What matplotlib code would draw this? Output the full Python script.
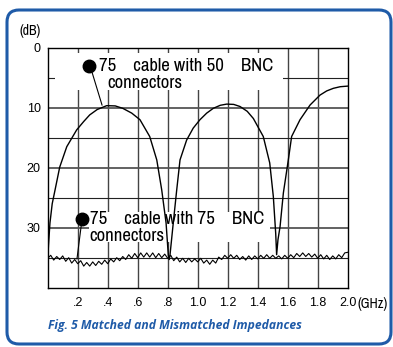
#!/usr/bin/env python3
import numpy as np
import matplotlib
matplotlib.use("Agg")
import matplotlib.pyplot as plt
from matplotlib import font_manager
from matplotlib.patches import FancyBboxPatch, Rectangle

# 75 ohm cable with 50 ohm BNC connectors (mismatched)
mis_f = [0.0, 0.005, 0.015, 0.03, 0.049, 0.08, 0.127, 0.193, 0.24, 0.28, 0.33,
         0.393, 0.45, 0.50, 0.56, 0.615, 0.68, 0.727, 0.76, 0.789, 0.804, 0.81,
         0.815, 0.837, 0.86, 0.882, 0.926, 0.97, 1.015, 1.06, 1.104, 1.15, 1.193,
         1.24, 1.282, 1.33, 1.371, 1.437, 1.48, 1.504, 1.52, 1.526, 1.535, 1.549,
         1.571, 1.604, 1.626, 1.682, 1.749, 1.815, 1.86, 1.904, 1.95, 2.0]
mis_db = [35.4, 33.0, 29.2, 26.0, 23.7, 19.9, 16.5, 13.7, 12.3, 11.2, 10.3,
          9.66, 9.7, 10.1, 10.9, 12.0, 14.8, 18.7, 23.7, 29.2, 34.6, 35.3,
          34.6, 29.2, 23.7, 18.7, 15.4, 13.4, 12.0, 10.9, 10.1, 9.6, 9.4,
          9.45, 9.8, 10.6, 11.8, 14.8, 19.2, 24.8, 31.0, 34.5, 32.0, 29.8,
          24.2, 18.7, 14.8, 12.0, 9.55, 7.9, 7.2, 6.77, 6.5, 6.4]

# 75 ohm cable with 75 ohm BNC connectors (matched), 0.02 GHz steps
match_db = [35.1, 34.6, 35.4, 34.8, 35.3, 34.7, 35.6, 35.0, 35.9, 35.3,
            36.0, 35.5, 36.4, 35.8, 36.4, 35.7, 36.3, 35.6, 36.1, 35.4,
            36.0, 35.2, 35.7, 35.0, 35.5, 34.8, 35.3, 34.5, 35.1, 34.3,
            35.0, 34.2, 34.9, 34.2, 34.9, 34.2, 35.0, 34.3, 35.0, 34.4,
            35.1, 34.6, 35.5, 34.9, 35.7, 35.1, 35.8, 35.1, 35.7, 35.2,
            35.7, 35.1, 35.9, 35.4, 36.1, 35.4, 35.9, 34.9, 35.3, 34.6,
            35.1, 34.5, 35.1, 34.6, 35.3, 34.8, 35.4, 34.7, 35.3, 34.7,
            35.2, 34.6, 35.1, 34.5, 35.1, 34.6, 35.1, 34.7, 35.2, 34.6,
            35.1, 34.5, 35.0, 34.3, 34.8, 34.2, 34.8, 34.3, 34.9, 34.4,
            35.1, 34.5, 35.2, 34.6, 35.3, 34.7, 35.2, 34.5, 35.0, 34.2,
            34.1]
match_f = np.linspace(0, 2.0, len(match_db))

x_ticks = [0.2, 0.4, 0.6, 0.8, 1.0, 1.2, 1.4, 1.6, 1.8, 2.0]
x_labels = ['.2', '.4', '.6', '.8', '1.0', '1.2', '1.4', '1.6', '1.8', '2.0']
y_ticks = [0, 10, 20, 30]

blue = '#1f5ba8'

# pick a condensed face if one is installed
names = sorted({f.name for f in font_manager.fontManager.ttflist})
narrow_name = next((n for n in names if 'Narrow' in n or 'Condensed' in n),
                   'Liberation Sans')
narrow = [narrow_name, 'DejaVu Sans']
label_size = 13.5 if narrow_name != 'Liberation Sans' else 11

fig = plt.figure(figsize=(3.93, 3.47), dpi=100)
ax = fig.add_axes([0.1214, 0.1709, 0.7634, 0.6916])

# grid
for xv in x_ticks[:-1]:
    ax.axvline(xv, color='#444444', lw=1.0, zorder=1)
for yv in [5, 15, 25, 35]:
    ax.axhline(yv, color='#222222', lw=0.8, zorder=1)
for yv in [10, 20, 30]:
    ax.axhline(yv, color='#555555', lw=1.3, zorder=1)

# white label boxes hiding the grid
ax.add_patch(Rectangle((0.049, 0.9), 1.52, 6.15, facecolor='white', edgecolor='none', zorder=2))
ax.add_patch(Rectangle((0.275, 27.4), 1.21, 5.0, facecolor='white', edgecolor='none', zorder=2))

ax.plot(mis_f, mis_db, color='black', lw=1.0, zorder=4)
ax.plot(match_f, match_db, color='black', lw=0.8, zorder=4)

# annotations
ax.plot([0.295, 0.362], [4.05, 9.55], color='black', lw=0.8, zorder=4)
ax.plot(0.275, 3.05, 'o', color='black', markersize=9, zorder=5)
ax.text(0.345, 3.05, '75    cable with 50    BNC', family=narrow, fontsize=label_size,
        va='center', ha='left', zorder=5)
ax.text(0.40, 5.8, 'connectors', family=narrow, fontsize=label_size,
        va='center', ha='left', zorder=5)

ax.plot([0.229, 0.195], [28.55, 35.2], color='black', lw=0.8, zorder=4)
ax.plot(0.229, 28.55, 'o', color='black', markersize=9, zorder=5)
ax.text(0.28, 28.55, '75    cable with 75    BNC', family=narrow, fontsize=label_size,
        va='center', ha='left', zorder=5)
ax.text(0.28, 31.4, 'connectors', family=narrow, fontsize=label_size,
        va='center', ha='left', zorder=5)

ax.set_xlim(0, 2.0)
ax.set_ylim(40, 0)
ax.set_xticks(x_ticks)
ax.set_xticklabels(x_labels)
ax.set_yticks(y_ticks)
ax.tick_params(length=0, labelsize=9, pad=5)
ax.tick_params(axis='x', pad=7)
for lab in ax.get_xticklabels() + ax.get_yticklabels():
    lab.set_family('Liberation Sans')
for sp in ax.spines.values():
    sp.set_linewidth(1.0)
    sp.set_zorder(6)

ax.text(1.033, -0.07, '(GHz)', transform=ax.transAxes, family=narrow,
        fontsize=10, ha='left', va='center')
ax.text(-0.06, 1.04, '(dB)', transform=ax.transAxes, family=narrow,
        fontsize=10, ha='center', va='bottom')

fig.text(48 / 393, 1 - 325 / 347, 'Fig. 5 Matched and Mismatched Impedances',
         color=blue, fontsize=8.7, fontweight='bold', fontstyle='italic',
         family='Open Sans', ha='left', va='center')

border = FancyBboxPatch((0.07, 0.03), 3.84, 3.34,
                        boxstyle='round,pad=0,rounding_size=0.12',
                        transform=fig.dpi_scale_trans, facecolor='none',
                        edgecolor=blue, lw=2.2)
fig.patches.append(border)

fig.savefig('out.png', dpi=100)
